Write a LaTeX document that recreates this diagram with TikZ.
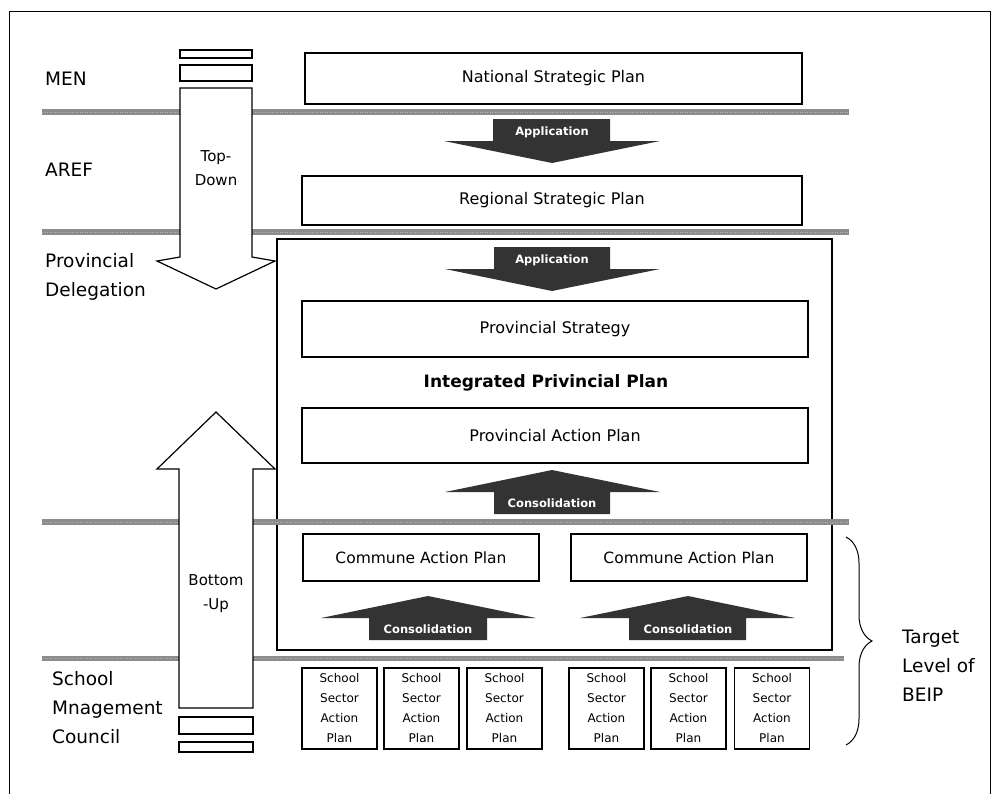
\documentclass[tikz,border=0pt]{standalone}
\usepackage{fontspec}
\setmainfont{DejaVu Sans}
\usepackage{tikz}
\usetikzlibrary{
    positioning,
    decorations.pathreplacing
}

\begin{document}
\begin{tikzpicture}[x=1pt,y=-1pt,
    planbox/.style={draw,line width=1.3pt,fill=white,inner sep=0pt,font=\fontsize{16}{19}\selectfont},
    schoolbox/.style={draw,line width=1.2pt,fill=white,inner sep=0pt,minimum width=75,minimum height=81,align=center,font=\fontsize{12}{20}\selectfont},
    levelname/.style={inner sep=0pt,anchor=west,align=left,font=\fontsize{18.5}{29}\selectfont},
    flowname/.style={inner sep=0pt,align=center,font=\fontsize{15}{24}\selectfont},
    levelline/.style={line width=5.5pt,draw=black!45},
    levelgrain/.style={line width=1pt,draw=black!30,dash pattern=on 1pt off 1.5pt},
    bigarrow/.style={draw,line width=1.2pt,fill=white},
    darkarrow/.style={fill=black!80},
    arrowtext/.style={text=white,inner sep=0pt,font=\bfseries\fontsize{11.5}{13}\selectfont}
]

\useasboundingbox (0,0) rectangle (999,793);
\draw[line width=1pt] (9,800) -- (9,11) -- (990,11) -- (990,800);

\node[draw,line width=1.2pt,inner sep=0pt,minimum width=555,minimum height=411] (ipp) at (554.5,444.5) {};

\foreach \y/\e in {112/849,232/849,522/849,658.5/844}{
    \draw[levelline] (42,\y) -- (\e,\y);
    \draw[levelgrain] (42,\y) -- (\e,\y);
}

\node[levelname] (men) at (45,79) {MEN};
\node[levelname] (aref) at (45,170) {AREF};
\node[levelname] (prov) at (45,276.5) {Provincial\\Delegation};
\node[levelname] (smc) at (52,708) {School\\Mnagement\\Council};

\draw[bigarrow] (180,50) rectangle (252,58);
\draw[bigarrow] (180,65) rectangle (252,81);
\draw[bigarrow] (180,88) -- (252,88) -- (252,257) -- (275,261) -- (216,289) -- (157,261) -- (180,257) -- cycle;
\node[flowname] (topdown) at (216,168) {Top-\\Down};

\draw[bigarrow] (216,412) -- (275,469) -- (253,469) -- (253,708) -- (179,708) -- (179,469) -- (157,469) -- cycle;
\draw[bigarrow] (179,717) rectangle (253,734);
\draw[bigarrow] (179,742) rectangle (253,752);
\node[flowname] (bottomup) at (216,594) {Bottom\\-Up};

\node[planbox,minimum width=497,minimum height=51] (nsp) at (553.5,78.5) {National Strategic Plan};
\node[planbox,minimum width=500,minimum height=49] (rsp) at (552,200.5) {Regional Strategic Plan};
\node[planbox,minimum width=506,minimum height=56] (ps) at (555,329) {Provincial Strategy};
\node[inner sep=0pt,font=\bfseries\fontsize{17}{20}\selectfont] (ipptitle) at (546,383) {Integrated Privincial Plan};
\node[planbox,minimum width=506,minimum height=55] (pap) at (555,435.5) {Provincial Action Plan};
\node[planbox,minimum width=236,minimum height=47,font=\fontsize{15.5}{19}\selectfont] (cap1) at (421,557.5) {Commune Action Plan};
\node[planbox,minimum width=236,minimum height=47,font=\fontsize{15.5}{19}\selectfont] (cap2) at (689,557.5) {Commune Action Plan};

\fill[darkarrow,shift={(552,119)}] (-59,0) -- (58,0) -- (58,22) -- (108,22) -- (0,44) -- (-108,22) -- (-59,22) -- cycle;
\node[arrowtext] (app1) at (552,132) {Application};
\fill[darkarrow,shift={(552,247)}] (-58,0) -- (58,0) -- (58,22) -- (108,22) -- (0,44) -- (-107,22) -- (-58,22) -- cycle;
\node[arrowtext] (app2) at (552,260) {Application};

\fill[darkarrow,shift={(552,514)}] (-58,0) -- (58,0) -- (58,-22) -- (108,-22) -- (0,-44) -- (-107,-22) -- (-58,-22) -- cycle;
\node[arrowtext] (cons1) at (552,503) {Consolidation};
\fill[darkarrow,shift={(428,640)}] (-59,0) -- (59,0) -- (59,-22) -- (108,-22) -- (0,-44) -- (-107,-22) -- (-59,-22) -- cycle;
\node[arrowtext] (cons2) at (428,629) {Consolidation};
\fill[darkarrow,shift={(688,640)}] (-59,0) -- (58,0) -- (58,-22) -- (107,-22) -- (0,-44) -- (-108,-22) -- (-59,-22) -- cycle;
\node[arrowtext] (cons3) at (688,629) {Consolidation};

\foreach \i/\x in {1/339.5,2/421.5,3/504.5,4/606.5,5/688.5,6/772}
    \node[schoolbox] (ssap\i) at (\x,708.5) {School\\Sector\\Action\\Plan};

\coordinate (bracetop) at (846,537);
\coordinate (bracebot) at (846,745);
\draw[line width=1pt,decorate,decoration={brace,amplitude=26pt}] (bracetop) -- (bracebot);
\node[levelname] (target) at (902,666) {Target\\Level of\\BEIP};

\end{tikzpicture}
\end{document}
